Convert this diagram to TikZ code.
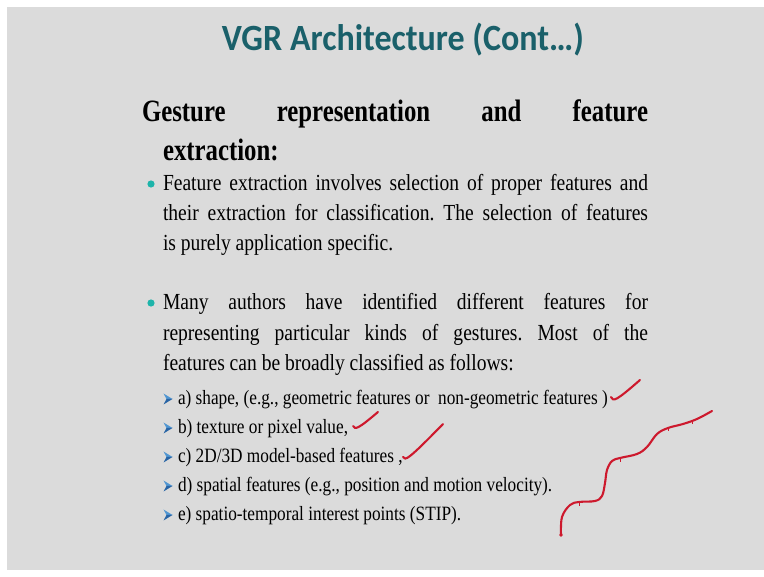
\documentclass[tikz,border=0pt]{standalone}
\usepackage{fontspec}
\setmainfont{Liberation Serif}[FakeStretch=0.85]
\newfontfamily\titlefont{Carlito}[FakeStretch=0.92]
\newfontfamily\headfont{Liberation Serif}[FakeStretch=0.8]
\frenchspacing

% Colors
\definecolor{slidegray}{RGB}{219,219,219}
\definecolor{vgrteal}{RGB}{26,96,106}
\definecolor{dotteal}{RGB}{30,180,170}
\definecolor{arrowblue}{RGB}{80,150,210}
\definecolor{arrowdark}{RGB}{40,100,165}
\definecolor{inkred}{RGB}{205,25,45}

\begin{document}
\begin{tikzpicture}[x=1pt, y=-1pt,
    inner sep=0pt, outer sep=0pt,
    title/.style={anchor=base, text=vgrteal, font=\titlefont\bfseries\fontsize{37}{42}\selectfont},
    head/.style={anchor=base west, font=\headfont\bfseries\fontsize{31}{36}\selectfont},
    body/.style={anchor=base west, font=\fontsize{23}{27}\selectfont},
    subitem/.style={anchor=base west, font=\fontsize{20.3}{24}\selectfont},
    inkmark/.style={draw=inkred, line width=2.1pt, line cap=round, line join=round},
    subarrow/.pic={
        \fill[arrowblue] (-4.5,-5.5) -- (4.5,0) -- (-1.5,0) -- cycle;
        \fill[arrowdark] (-4.5,5.5) -- (4.5,0) -- (-1.5,0) -- cycle;
    },
]
    % Slide
    \fill[white] (0,0) rectangle (764,577);
    \fill[slidegray] (7,7) rectangle (764,570);
    \useasboundingbox (0,0) rectangle (764,577);

    \node[title] (title) at (403,51) {VGR Architecture (Cont…)};

    % Heading
    \node[head] (head-a) at (142,122) {\makebox[506pt][s]{Gesture representation and feature}};
    \node[head] (head-b) at (163,161) {extraction:};

    % First point
    \fill[dotteal] (151,184) circle (3.6pt);
    \node[body] (sel-a) at (163,191) {\makebox[485pt][s]{Feature extraction involves selection of proper features and}};
    \node[body] (sel-b) at (163,221) {\makebox[485pt][s]{their extraction for classification. The selection of features}};
    \node[body] (sel-c) at (163,251) {is purely application specific.};

    % Second point
    \fill[dotteal] (151,303) circle (3.6pt);
    \node[body] (many-a) at (163,310) {\makebox[485pt][s]{Many authors have identified different features for}};
    \node[body] (many-b) at (163,341) {\makebox[485pt][s]{representing particular kinds of gestures. Most of the}};
    \node[body] (many-c) at (163,371) {features can be broadly classified as follows:};

    % Kinds of features
    \pic at (168,399) {subarrow};
    \node[subitem] (kind-a) at (178,405) {a) shape, (e.g., geometric features or \ non-geometric features )};
    \pic at (168,428) {subarrow};
    \node[subitem] (kind-b) at (178,434) {b) texture or pixel value,};
    \pic at (168,457) {subarrow};
    \node[subitem] (kind-c) at (178,463) {c) 2D/3D model-based features ,};
    \pic at (168,486) {subarrow};
    \node[subitem] (kind-d) at (178,492) {d) spatial features (e.g., position and motion velocity).};
    \pic at (168,515) {subarrow};
    \node[subitem] (kind-e) at (178,521) {e) spatio-temporal interest points (STIP).};

    % Pen marks
    \draw[inkmark] (611,397) .. controls (613,402) and (616,401) .. (640,380);
    \draw[inkmark] (353,426) .. controls (355,430) and (358,429) .. (378,412);
    \draw[inkmark] (403,457) .. controls (405,461) and (408,460) .. (443,424);

    \draw[inkmark] plot[smooth, tension=0.6] coordinates {(561,535) (562,517) (570,505) (579,502)
        (595,501) (602,496) (605,483) (607,470) (612,461) (620,458) (637,454) (647,447)
        (657,434) (668,428) (683,424) (697,419) (712,411)};
    \draw[inkred, line width=1pt] (579,502) -- (579,506);
    \draw[inkred, line width=1pt] (620,458) -- (620,462);
    \draw[inkred, line width=1pt] (668,428) -- (668,431);
    \draw[inkred, line width=1pt] (692,421) -- (692,424);
    \fill[inkred] (561,535) circle (1.8pt);
\end{tikzpicture}
\end{document}
